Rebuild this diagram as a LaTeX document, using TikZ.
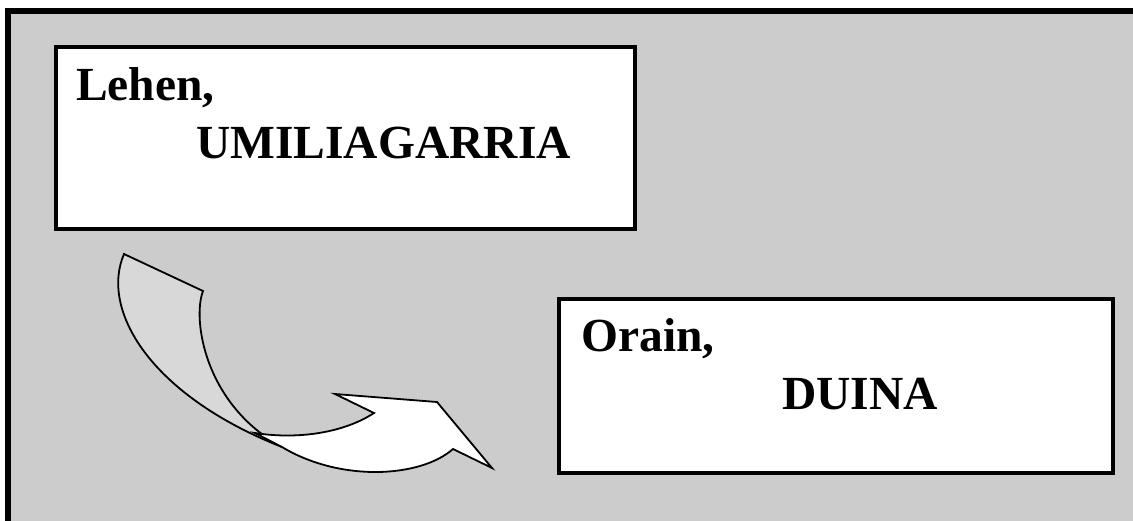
\documentclass[tikz,border=0pt]{standalone}
\usepackage{fontspec}
\setmainfont{Liberation Serif}
\definecolor{panelgray}{RGB}{204,204,204}
\definecolor{foldgray}{RGB}{216,216,216}

\begin{document}
\begin{tikzpicture}[x=1pt,y=-1pt,
    box/.style={draw, line width=4pt, fill=white, inner sep=0pt},
    word/.style={inner sep=0pt, anchor=base west, font=\fontsize{47.5}{58}\selectfont\bfseries},
    ribbon/.style={draw, line width=1.8pt, line join=miter}]
    \useasboundingbox (0,0) rectangle (1133,520);

    % Draw the grey panel (it runs off the page at right and bottom)
    \draw[line width=6pt, fill=panelgray] (8,11) rectangle (1145,535);

    % Draw the two boxes
    \node[box, minimum width=579pt, minimum height=182pt] (lehen) at (345.5,138) {};
    \node[box, minimum width=553.5pt, minimum height=173.5pt] (orain) at (835.75,385.75) {};

    % Texts in the boxes
    \node[word] (lehenA) at ([xshift=22pt,yshift=-55pt]lehen.north west) {Lehen,};
    \node[word] (lehenB) at ([xshift=142pt,yshift=-113pt]lehen.north west) {UMILIAGARRIA};
    \node[word] (orainA) at ([xshift=24pt,yshift=-54pt]orain.north west) {Orain,};
    \node[word] (orainB) at ([xshift=225pt,yshift=-112pt]orain.north west) {DUINA};

    % Draw the curved arrow: the back fold first, then the front
    \draw[ribbon, fill=foldgray] (124,254) -- (203,291)
        .. controls (192,320) and (205,405) .. (282,447)
        .. controls (150,395) and (100,310) .. (124,254) -- cycle;
    \draw[ribbon, fill=white] (255,433)
        .. controls (300,440) and (345,432) .. (374,413)
        -- (335,394) -- (437,402) -- (492,468) -- (453,449)
        .. controls (420,478) and (340,482) .. (282,447) -- cycle;
\end{tikzpicture}
\end{document}
